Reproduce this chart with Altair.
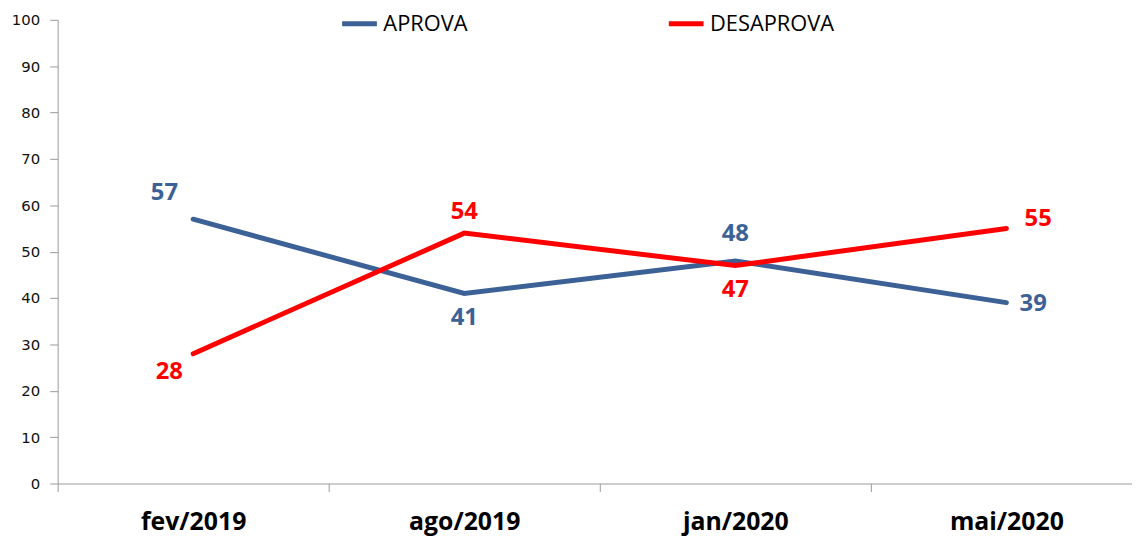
import altair as alt
import pandas as pd

periods = ["fev/2019", "ago/2019", "jan/2020", "mai/2020"]
aprova = [57, 41, 48, 39]
desaprova = [28, 54, 47, 55]
series_names = ["APROVA", "DESAPROVA"]
series_colors = ["#3C6196", "#FF0000"]
y_ticks = [0, 10, 20, 30, 40, 50, 60, 70, 80, 90, 100]

rows = []
for p, a, d in zip(periods, aprova, desaprova):
    rows.append({"periodo": p, "serie": "APROVA", "valor": a})
    rows.append({"periodo": p, "serie": "DESAPROVA", "valor": d})
df = pd.DataFrame(rows)

x_enc = alt.X(
    "periodo:N",
    sort=periods,
    bandPosition=0.5,
    scale=alt.Scale(type="band", domain=periods, range=[0, 1092],
                    paddingInner=0, paddingOuter=0),
    axis=alt.Axis(title=None, labelAngle=0, tickBand="extent",
                  domainColor="#9A9A9A", tickColor="#9A9A9A", tickSize=8,
                  labelFont="Open Sans", labelFontWeight="bold",
                  labelFontSize=25, labelColor="#000000", labelPadding=18),
)
y_enc = alt.Y(
    "valor:Q",
    scale=alt.Scale(domain=[0, 100], nice=False),
    axis=alt.Axis(title=None, values=y_ticks, grid=False,
                  domainColor="#9A9A9A", tickColor="#9A9A9A", tickSize=8,
                  labelFont="DejaVu Sans", labelFontSize=15,
                  labelColor="#111111", labelPadding=10),
)

lines = alt.Chart(df).mark_line(strokeWidth=5, strokeCap="round").encode(
    x=x_enc,
    y=y_enc,
    color=alt.Color(
        "serie:N",
        scale=alt.Scale(domain=series_names, range=series_colors),
        legend=alt.Legend(
            title=None, orient="none", legendX=284, legendY=-16,
            direction="horizontal", symbolType="stroke", symbolSize=1225,
            symbolStrokeWidth=5, labelFont="Open Sans", labelFontSize=22,
            labelColor="#000000", labelOffset=4, columnPadding=192,
            padding=0,
        ),
    ),
    order=alt.Order("serie:N"),
)

# label offsets (styling only): dx, dy relative to each point
offsets = {
    "APROVA": [(-29, -26), (0, 25), (0, -27), (27, 1)],
    "DESAPROVA": [(-24, 19), (0, -21), (0, 25), (32, -9)],
}

layers = [lines]
for s, col in zip(series_names, series_colors):
    for i, p in enumerate(periods):
        dx, dy = offsets[s][i]
        layers.append(
            alt.Chart(df)
            .transform_filter((alt.datum.serie == s) & (alt.datum.periodo == p))
            .mark_text(dx=dx, dy=dy, font="Open Sans", fontWeight="bold",
                       fontSize=24, color=col, align="center",
                       baseline="middle")
            .encode(x=x_enc, y=y_enc, text=alt.Text("valor:Q"))
        )

chart = (
    alt.layer(*layers)
    .properties(width=1082, height=467,
                autosize=alt.AutoSizeParams(type="none"),
                padding={"left": 50, "top": 10, "right": 0, "bottom": 56},
                background="white")
    .configure_view(stroke=None)
)

chart.save("out.html", embed_options={"renderer": "svg", "actions": False})
